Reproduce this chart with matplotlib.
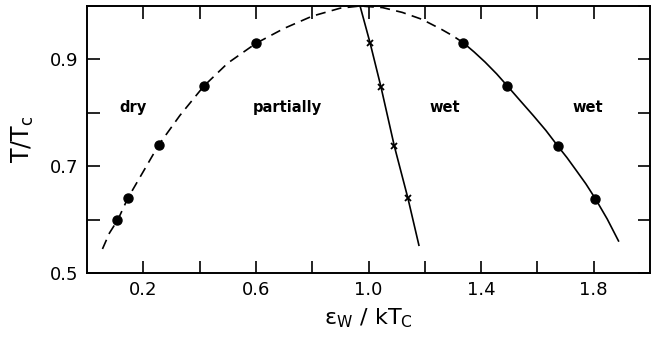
import matplotlib
matplotlib.use('Agg')
import matplotlib.pyplot as plt

plt.rcParams['font.family'] = ['DejaVu Sans']

# wetting phase boundary (dashed: first order, solid: second order)
boundary_dashed_x = [0.055, 0.08, 0.11, 0.145, 0.20, 0.255, 0.33, 0.415, 0.50, 0.60,
                     0.70, 0.80, 0.90, 0.97, 1.05, 1.12, 1.19, 1.26, 1.30, 1.337]
boundary_dashed_y = [0.545, 0.575, 0.60, 0.64, 0.69, 0.74, 0.795, 0.85, 0.893, 0.93,
                     0.958, 0.981, 0.996, 1.0, 0.997, 0.988, 0.975, 0.956, 0.944, 0.931]
boundary_solid_x = [1.337, 1.375, 1.414, 1.455, 1.492, 1.54, 1.585, 1.63, 1.672,
                    1.705, 1.738, 1.772, 1.806, 1.848, 1.888]
boundary_solid_y = [0.931, 0.914, 0.895, 0.873, 0.851, 0.822, 0.795, 0.767, 0.738,
                    0.716, 0.692, 0.667, 0.639, 0.601, 0.560]

# simulation points
dots_x = [0.108, 0.145, 0.255, 0.415, 0.60, 1.337, 1.492, 1.672, 1.806]
dots_y = [0.60, 0.64, 0.74, 0.85, 0.93, 0.931, 0.851, 0.738, 0.639]

# line with crosses
line_x = [0.97, 1.006, 1.044, 1.092, 1.14, 1.179]
line_y = [1.0, 0.93, 0.849, 0.737, 0.64, 0.552]
cross_x = [1.006, 1.044, 1.092, 1.14]
cross_y = [0.93, 0.849, 0.737, 0.64]

region_labels = ['dry', 'partially', 'wet', 'wet']
region_x = [0.165, 0.71, 1.27, 1.78]
region_y = [0.81, 0.81, 0.81, 0.81]

fig = plt.figure(figsize=(6.52, 3.39), dpi=100)
ax = fig.add_axes([0.1334, 0.1947, 0.8636, 0.7876])

ax.plot(boundary_dashed_x, boundary_dashed_y, color='black', lw=1.2,
        dashes=(6, 3.8))
ax.plot(boundary_solid_x, boundary_solid_y, color='black', lw=1.2)
ax.plot(dots_x, dots_y, 'o', color='black', ms=6.5)
ax.plot(line_x, line_y, color='black', lw=1.2)
ax.plot(cross_x, cross_y, 'x', color='black', ms=5, mew=1.3)

for label, x, y in zip(region_labels, region_x, region_y):
    ax.text(x, y, label, ha='center', va='center', fontsize=10.5,
            fontweight='bold')

ax.set_xlim(0.0, 2.0)
ax.set_ylim(0.5, 1.0)
ax.set_xticks([0.2, 0.4, 0.6, 0.8, 1.0, 1.2, 1.4, 1.6, 1.8])
ax.set_xticklabels(['0.2', '', '0.6', '', '1.0', '', '1.4', '', '1.8'])
ax.set_yticks([0.5, 0.6, 0.7, 0.8, 0.9, 1.0])
ax.set_yticklabels(['0.5', '', '0.7', '', '0.9', ''])
ax.tick_params(direction='in', length=9, width=1.2, top=True, right=True,
               labelsize=13, pad=6)
for spine in ax.spines.values():
    spine.set_linewidth(1.4)

ax.set_xlabel(r'$\mathrm{\varepsilon_W\ /\ kT_C}$', fontsize=16, labelpad=5)
ax.set_ylabel(r'$\mathrm{T/T_c}$', fontsize=17, labelpad=10)

fig.savefig('out.png', dpi=100)
